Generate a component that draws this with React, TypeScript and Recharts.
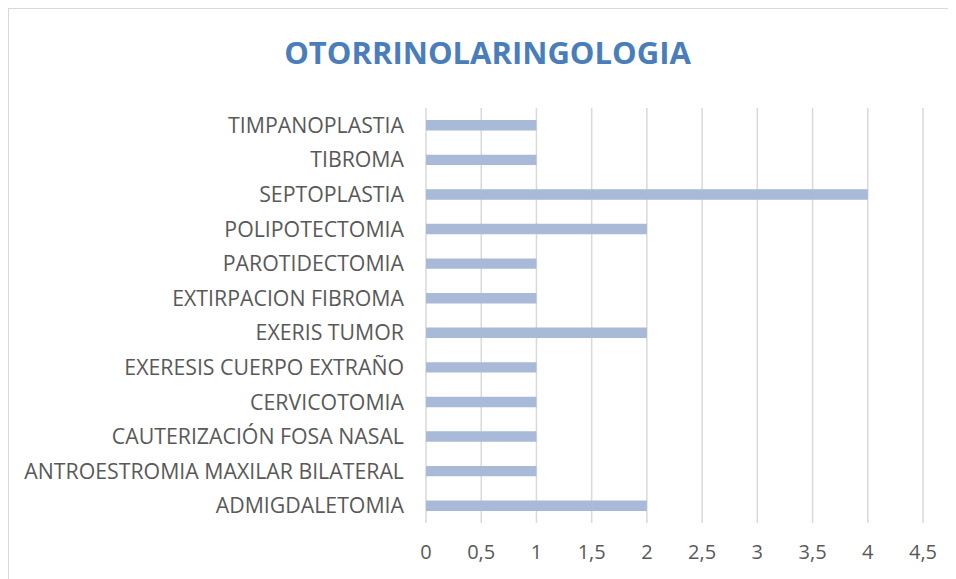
import React from 'react';
import { BarChart, Bar, XAxis, YAxis, CartesianGrid } from 'recharts';

const categories = [
  'TIMPANOPLASTIA',
  'TIBROMA',
  'SEPTOPLASTIA',
  'POLIPOTECTOMIA',
  'PAROTIDECTOMIA',
  'EXTIRPACION FIBROMA',
  'EXERIS TUMOR',
  'EXERESIS CUERPO EXTRAÑO',
  'CERVICOTOMIA',
  'CAUTERIZACIÓN FOSA NASAL',
  'ANTROESTROMIA MAXILAR BILATERAL',
  'ADMIGDALETOMIA',
];
const counts = [1, 1, 4, 2, 1, 1, 2, 1, 1, 1, 1, 2];
const xTicks = [0, 0.5, 1, 1.5, 2, 2.5, 3, 3.5, 4, 4.5];

const data = categories.map((name, i) => ({ name, value: counts[i] }));

const font = '"Open Sans", sans-serif';

const App: React.FC = () => {
  return (
    <div
      style={{
        position: 'relative',
        width: 947,
        height: 570,
        borderTop: '1px solid #d9d9d9',
        borderLeft: '1px solid #d9d9d9',
        fontFamily: font,
      }}
    >
      <div
        style={{
          position: 'absolute',
          left: 0,
          top: 22,
          width: 957,
          textAlign: 'center',
          color: '#4a7ebb',
          fontWeight: 'bold',
          fontSize: 31,
        }}
      >
        OTORRINOLARINGOLOGIA
      </div>
      <BarChart
        width={947}
        height={570}
        data={data}
        layout="vertical"
        barCategoryGap="65%"
        margin={{ top: 99, right: 33, left: 0, bottom: 0 }}
      >
        <CartesianGrid horizontal={false} stroke="#d9d9d9" strokeWidth={1.5} />
        <XAxis
          type="number"
          domain={[0, 4.5]}
          ticks={xTicks}
          axisLine={false}
          tickLine={false}
          tickSize={0}
          tickMargin={22}
          height={56}
          interval={0}
          tickFormatter={(v) => String(v).replace('.', ',')}
          tick={{ fill: '#595959', fontSize: 20, fontFamily: font }}
        />
        <YAxis
          type="category"
          dataKey="name"
          width={417}
          axisLine={false}
          tickLine={false}
          tickSize={0}
          tickMargin={22}
          interval={0}
          tick={{ fill: '#595959', fontSize: 21.3, fontFamily: font }}
        />
        <Bar dataKey="value" fill="#a9b9d8" isAnimationActive={false} />
      </BarChart>
    </div>
  );
};

export default App;
